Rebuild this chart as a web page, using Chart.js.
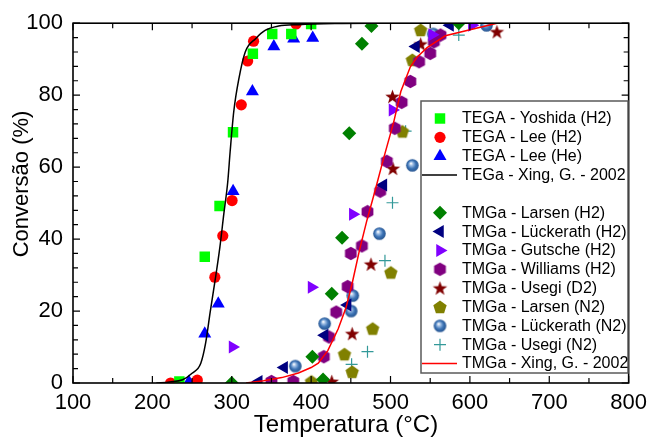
<!DOCTYPE html>
<html>
<head>
<meta charset="utf-8">
<script src="https://cdn.jsdelivr.net/npm/chart.js@4.4.1/dist/chart.umd.min.js"></script>
<style>
  html, body { margin: 0; padding: 0; background: #fff; }
  #wrap { width: 654px; height: 439px; }
</style>
</head>
<body>
<div id="wrap"><canvas id="conversao" width="654" height="439"></canvas></div>
<script>
// Temperature (°C) / conversion (%) pairs for each data set
const yoshidaTemp = [234, 266, 284.6, 301.6, 326.6, 351, 375, 400];
const yoshidaConv = [0.4, 35.1, 49.2, 69.7, 91.5, 97, 97, 99.8];

const leeH2Temp = [223, 256.6, 278.7, 288.7, 300.4, 312, 320, 327.5, 381];
const leeH2Conv = [0, 0.8, 29.4, 40.9, 50.7, 77.3, 89.5, 95, 99.8];

const leeHeTemp = [246, 266, 283, 301.7, 326, 353, 378, 402];
const leeHeConv = [0.3, 13.7, 22, 53.3, 81, 93.5, 95.7, 95.9];

const tegaXingTemp = [205, 222, 238, 250, 261, 267, 273, 279, 285, 290, 295, 298, 302.5, 309, 317, 330, 342, 359, 384, 430, 500];
const tegaXingConv = [0, 0.3, 0.9, 2.7, 5.5, 11, 20, 28.5, 37.7, 47, 56, 64.4, 75.4, 84.6, 92, 95.7, 98, 99.2, 99.6, 99.9, 100];

const larsenH2Temp = [300, 401.6, 415, 426, 439, 448, 464, 476, 586];
const larsenH2Conv = [0, 7.3, 1, 24.8, 40.4, 69.4, 94.3, 99.2, 100];

const luckH2Temp = [334, 366, 417, 446, 491, 532, 575];
const luckH2Conv = [0.4, 4.3, 13.3, 21.7, 55, 93.5, 99.4];

const gutscheTemp = [301, 400.5, 452.5, 502.5, 552.5, 602.5];
const gutscheConv = [10, 26.6, 46.9, 75.9, 96.8, 99.4];

const williamsTemp = [350, 377.5, 416, 422.5, 431.6, 446, 450, 464, 471, 487, 495.4, 505.4, 514, 525, 536, 550, 554.6, 563];
const williamsConv = [0.4, 0.4, 7.3, 12.8, 19.7, 26.8, 36, 38.1, 47.6, 53.3, 61.6, 70.8, 78, 83.8, 89.3, 91.6, 94.8, 96.7];

const usegiD2Temp = [426, 451.7, 475.4, 503, 502.5, 538, 634];
const usegiD2Conv = [0.4, 13.7, 33, 59.6, 79.6, 94.2, 97.6];

const larsenN2Temp = [400.4, 442, 451.7, 477.5, 500.4, 515, 527.5, 538];
const larsenN2Conv = [0.4, 8, 3.1, 15.1, 30.7, 69.9, 89.8, 98.1];

const luckN2Temp = [380, 417, 450.4, 452.5, 486, 527.5, 553.8, 621];
const luckN2Conv = [4.7, 16.5, 20, 24.3, 41.5, 60.5, 97, 99.4];

const usegiN2Temp = [451, 471, 493, 502.5, 519, 586];
const usegiN2Conv = [5.2, 8.7, 34, 50.1, 70, 96.7];

const tmgaXingTemp = [318, 340, 363, 384, 400, 409, 421, 434, 444, 452, 461, 470, 480, 492, 504, 513, 525, 534, 546, 569, 634];
const tmgaXingConv = [0, 0.6, 1.5, 2.8, 4.3, 5.5, 9, 15, 21, 28, 37, 45, 53, 63, 72.5, 81, 87.9, 90.7, 93.2, 96.5, 100];

// Axis ranges and tick spacing
const tempRange = [100, 800];
const convRange = [0, 100];
const tempMajor = 100, tempMinor = 50;
const convMajor = 20, convMinor = 4;

const FONT = "'Liberation Sans', Arial, sans-serif";

const pts = (xs, ys) => xs.map((x, i) => ({ x, y: ys[i] }));

// Symbols Chart.js has no built-in style for
function symbol(size, draw) {
  const c = document.createElement('canvas');
  c.width = size;
  c.height = size;
  draw(c.getContext('2d'), size / 2);
  return c;
}
function polygon(g, cx, cy, radii, n, start) {
  g.beginPath();
  for (let i = 0; i < n * radii.length; i++) {
    const r = radii[i % radii.length];
    const a = start + i * Math.PI * 2 / (n * radii.length);
    const px = cx + r * Math.cos(a), py = cy + r * Math.sin(a);
    i ? g.lineTo(px, py) : g.moveTo(px, py);
  }
  g.closePath();
}
const hexagon = symbol(15, (g, c) => {
  g.fillStyle = '#800080';
  polygon(g, c, c, [6.8], 6, -Math.PI / 2);
  g.fill();
});
const star = symbol(17, (g, c) => {
  g.fillStyle = '#800000';
  polygon(g, c, c + 0.5, [7.6, 3.1], 5, -Math.PI / 2);
  g.fill();
});
const pentagon = symbol(16, (g, c) => {
  g.fillStyle = '#808000';
  polygon(g, c, c + 0.5, [7], 5, -Math.PI / 2);
  g.fill();
});
const sphere = symbol(15, (g, c) => {
  const grad = g.createRadialGradient(c - 1.5, c - 2, 0.3, c, c, 6.5);
  grad.addColorStop(0, '#ffffff');
  grad.addColorStop(0.25, '#9dbde4');
  grad.addColorStop(0.6, '#3d74b6');
  grad.addColorStop(1, '#22508c');
  g.fillStyle = grad;
  g.beginPath();
  g.arc(c, c, 6.3, 0, Math.PI * 2);
  g.fill();
});

function marks(label, xs, ys, style) {
  return Object.assign({
    label,
    data: pts(xs, ys),
    showLine: false,
    clip: 0,
    pointBorderWidth: 0,
    pointRotation: 0,
  }, style);
}
function curve(label, xs, ys, color, smooth) {
  return {
    label,
    data: pts(xs, ys),
    showLine: true,
    clip: 0,
    borderColor: color,
    borderWidth: 1.5,
    pointRadius: 0,
    cubicInterpolationMode: smooth ? 'monotone' : 'default',
    tension: 0,
    order: -1,
    isLine: true,
  };
}

const datasets = [
  marks('TEGA - Yoshida (H2)', yoshidaTemp, yoshidaConv, { pointStyle: 'rect', pointRadius: 7.4, backgroundColor: '#00ff00' }),
  marks('TEGA - Lee (H2)', leeH2Temp, leeH2Conv, { pointStyle: 'circle', pointRadius: 5.6, backgroundColor: '#ff0000' }),
  marks('TEGA - Lee (He)', leeHeTemp, leeHeConv, { pointStyle: 'triangle', pointRadius: 7.5, backgroundColor: '#0000ff' }),
  curve('TEGa - Xing, G. - 2002', tegaXingTemp, tegaXingConv, '#000000', true),
  marks('TMGa - Larsen (H2)', larsenH2Temp, larsenH2Conv, { pointStyle: 'rectRot', pointRadius: 7, backgroundColor: '#008000' }),
  marks('TMGa - Lückerath (H2)', luckH2Temp, luckH2Conv, { pointStyle: 'triangle', pointRotation: -90, pointRadius: 7.5, backgroundColor: '#000080' }),
  marks('TMGa - Gutsche (H2)', gutscheTemp, gutscheConv, { pointStyle: 'triangle', pointRotation: 90, pointRadius: 7.5, backgroundColor: '#8000ff' }),
  marks('TMGa - Williams (H2)', williamsTemp, williamsConv, { pointStyle: hexagon, pointRadius: 7 }),
  marks('TMGa - Usegi (D2)', usegiD2Temp, usegiD2Conv, { pointStyle: star, pointRadius: 7 }),
  marks('TMGa - Larsen (N2)', larsenN2Temp, larsenN2Conv, { pointStyle: pentagon, pointRadius: 7 }),
  marks('TMGa - Lückerath (N2)', luckN2Temp, luckN2Conv, { pointStyle: sphere, pointRadius: 7 }),
  marks('TMGa - Usegi (N2)', usegiN2Temp, usegiN2Conv, { pointStyle: 'cross', pointRadius: 6, borderColor: '#339999', pointBorderWidth: 1.2 }),
  curve('TMGa - Xing, G. - 2002', tmgaXingTemp, tmgaXingConv, '#ff0000', false),
];

// Closed frame with inward ticks, boxed legend and axis titles
const framePlugin = {
  id: 'frame',
  afterDatasetsDraw(chart) {
    const { ctx, chartArea: a, scales: { x, y } } = chart;
    ctx.save();

    ctx.strokeStyle = '#000';
    ctx.lineWidth = 1.2;
    ctx.beginPath();
    for (let t = tempRange[0]; t <= tempRange[1]; t += tempMinor) {
      const px = x.getPixelForValue(t);
      const len = t % tempMajor === 0 ? 7 : 5;
      ctx.moveTo(px, a.bottom); ctx.lineTo(px, a.bottom - len);
      ctx.moveTo(px, a.top); ctx.lineTo(px, a.top + len);
    }
    for (let v = convRange[0]; v <= convRange[1]; v += convMinor) {
      const py = y.getPixelForValue(v);
      const len = v % convMajor === 0 ? 7 : 5;
      ctx.moveTo(a.left, py); ctx.lineTo(a.left + len, py);
      ctx.moveTo(a.right, py); ctx.lineTo(a.right - len, py);
    }
    ctx.stroke();
    ctx.lineWidth = 1.6;
    ctx.strokeRect(a.left, a.top, a.right - a.left, a.bottom - a.top);

    // legend box
    const box = { left: 421, top: 101, right: 628, bottom: 373 };
    ctx.fillStyle = '#fff';
    ctx.fillRect(box.left, box.top, box.right - box.left, box.bottom - box.top);
    ctx.strokeStyle = '#5a5a5a';
    ctx.lineWidth = 1.5;
    ctx.strokeRect(box.left, box.top, box.right - box.left, box.bottom - box.top);

    ctx.font = '16px ' + FONT;
    ctx.textBaseline = 'middle';
    ctx.textAlign = 'left';
    let row = 0;
    chart.data.datasets.forEach((ds, i) => {
      const ly = 118.5 + row * 18.85;
      if (ds.isLine) {
        ctx.strokeStyle = ds.borderColor;
        ctx.lineWidth = 1.5;
        ctx.beginPath();
        ctx.moveTo(box.left + 1, ly);
        ctx.lineTo(457, ly);
        ctx.stroke();
      } else {
        ctx.fillStyle = ds.backgroundColor || '#000';
        ctx.strokeStyle = ds.borderColor || '#000';
        ctx.lineWidth = ds.pointBorderWidth || 0;
        Chart.helpers.drawPoint(ctx, {
          pointStyle: ds.pointStyle,
          rotation: ds.pointRotation,
          radius: ds.pointRadius,
          borderWidth: ds.pointBorderWidth,
        }, 440, ly);
      }
      ctx.fillStyle = '#000';
      ctx.fillText(ds.label, 462, ly + 0.5);
      row += i === 3 ? 2 : 1;
    });

    // axis titles
    ctx.fillStyle = '#000';
    ctx.textAlign = 'center';
    ctx.font = '24px ' + FONT;
    ctx.fillText('Temperatura (°C)', 346, 425);
    ctx.translate(22, 184);
    ctx.rotate(-Math.PI / 2);
    ctx.font = '22px ' + FONT;
    ctx.fillText('Conversão (%)', 0, 0);
    ctx.restore();
  },
};

new Chart(document.getElementById('conversao'), {
  type: 'scatter',
  data: { datasets },
  options: {
    responsive: false,
    animation: false,
    events: [],
    layout: { padding: { left: 0, top: 21, right: 21, bottom: 0 } },
    scales: {
      x: {
        type: 'linear',
        min: tempRange[0],
        max: tempRange[1],
        afterFit: (s) => { s.height = 56; },
        grid: { display: false, drawTicks: false },
        border: { display: false },
        ticks: {
          stepSize: tempMajor,
          autoSkip: false,
          maxRotation: 0,
          padding: 7,
          color: '#000',
          font: { family: FONT, size: 22 },
        },
      },
      y: {
        type: 'linear',
        min: convRange[0],
        max: convRange[1],
        afterFit: (s) => { s.width = 73; },
        grid: { display: false, drawTicks: false },
        border: { display: false },
        ticks: {
          stepSize: convMajor,
          padding: 10,
          color: '#000',
          font: { family: FONT, size: 22 },
        },
      },
    },
    plugins: {
      legend: { display: false },
      tooltip: { enabled: false },
    },
  },
  plugins: [framePlugin],
});
</script>
</body>
</html>
